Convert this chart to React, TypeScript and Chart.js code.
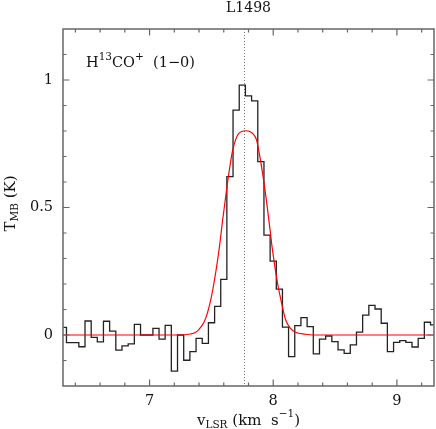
import React, { useEffect, useRef } from 'react';
import { Chart, registerables } from 'chart.js';
Chart.register(...registerables);

// Spectrum channels (km/s) and main-beam temperature (K)
const channelVelocity = [
  6.303, 6.353, 6.403, 6.453, 6.503, 6.553, 6.602, 6.652, 6.702, 6.752,
  6.802, 6.852, 6.902, 6.952, 7.002, 7.052, 7.101, 7.151, 7.201, 7.251,
  7.301, 7.351, 7.401, 7.451, 7.501, 7.551, 7.600, 7.650, 7.700, 7.750,
  7.800, 7.850, 7.900, 7.950, 8.000, 8.050, 8.099, 8.149, 8.199, 8.249,
  8.299, 8.349, 8.399, 8.449, 8.499, 8.549, 8.598, 8.648, 8.698, 8.748,
  8.798, 8.848, 8.898, 8.948, 8.998, 9.048, 9.097, 9.147, 9.197, 9.247,
  9.297,
];
const channelTmb = [
  0.030, -0.030, -0.030, -0.046, 0.055, -0.009, -0.027, 0.054, 0.015, -0.059,
  -0.043, -0.035, 0.042, 0.000, 0.000, 0.026, -0.016, 0.038, -0.142, 0.000,
  -0.099, -0.065, -0.013, -0.033, 0.048, 0.112, 0.218, 0.621, 0.882, 0.980,
  0.938, 0.918, 0.680, 0.392, 0.290, 0.180, 0.031, -0.085, 0.037, 0.068,
  0.033, -0.074, -0.016, -0.004, -0.026, -0.058, -0.072, -0.039, 0.011, 0.078,
  0.116, 0.102, 0.046, -0.065, -0.029, -0.022, -0.029, -0.047, -0.013, 0.050,
  0.040,
];

// Fitted profile (red)
const fitVelocity = [
  6.30, 7.25, 7.33, 7.37, 7.40, 7.44, 7.47, 7.50, 7.538, 7.565,
  7.591, 7.619, 7.645, 7.672, 7.699, 7.72, 7.75, 7.78, 7.81, 7.84,
  7.865, 7.887, 7.914, 7.941, 7.968, 7.994, 8.035, 8.07, 8.10, 8.14,
  8.18, 8.26, 8.32, 9.30,
];
const fitTmb = [
  0, 0, 0.004, 0.010, 0.022, 0.050, 0.090, 0.150, 0.255, 0.346,
  0.451, 0.556, 0.647, 0.725, 0.770, 0.790, 0.799, 0.801, 0.798, 0.787,
  0.765, 0.713, 0.634, 0.542, 0.438, 0.333, 0.203, 0.120, 0.060, 0.026,
  0.011, 0.003, 0, 0,
];

const lineCenterVelocity = 7.76;
const xMin = 6.3;
const xMax = 9.3;
const yMin = -0.2;
const yMax = 1.2;
const xMajorTicks = [7, 8, 9];
const xMinorTicks = [6.4, 6.6, 6.8, 7.2, 7.4, 7.6, 7.8, 8.2, 8.4, 8.6, 8.8, 9.2];
const yMajorTicks = [0, 0.5, 1];
const yMinorTicks = [-0.1, 0.1, 0.2, 0.3, 0.4, 0.6, 0.7, 0.8, 0.9, 1.1];
const titleText = 'L1498';

const FONT = '"DejaVu Serif", serif';
const TEXT = '#111';

type Seg = { t: string; size: number; dy: number };

function drawSegs(ctx: CanvasRenderingContext2D, segs: Seg[], x: number, y: number, align: 'left' | 'center') {
  let total = 0;
  for (const s of segs) {
    ctx.font = `${s.size}px ${FONT}`;
    total += ctx.measureText(s.t).width;
  }
  let cx = align === 'center' ? x - total / 2 : x;
  ctx.textAlign = 'left';
  ctx.textBaseline = 'alphabetic';
  for (const s of segs) {
    ctx.font = `${s.size}px ${FONT}`;
    ctx.fillText(s.t, cx, y + s.dy);
    cx += ctx.measureText(s.t).width;
  }
}

const decorPlugin = {
  id: 'decor',
  beforeDatasetsDraw(chart: any) {
    const { ctx, chartArea, scales } = chart;
    const x = scales.x.getPixelForValue(lineCenterVelocity);
    ctx.save();
    ctx.strokeStyle = '#777';
    ctx.lineWidth = 1;
    ctx.setLineDash([1, 2]);
    ctx.beginPath();
    ctx.moveTo(Math.round(x) + 0.5, chartArea.top);
    ctx.lineTo(Math.round(x) + 0.5, chartArea.bottom);
    ctx.stroke();
    ctx.restore();
  },
  afterDraw(chart: any) {
    const { ctx, chartArea, scales } = chart;
    const { left, right, top, bottom } = chartArea;
    ctx.save();
    ctx.strokeStyle = '#666';
    ctx.lineWidth = 1.5;
    ctx.strokeRect(left, top, right - left, bottom - top);
    ctx.lineWidth = 1.2;
    ctx.beginPath();
    const xt = (v: number, len: number) => {
      const p = scales.x.getPixelForValue(v);
      ctx.moveTo(p, bottom); ctx.lineTo(p, bottom - len);
      ctx.moveTo(p, top); ctx.lineTo(p, top + len);
    };
    const yt = (v: number, len: number) => {
      const p = scales.y.getPixelForValue(v);
      ctx.moveTo(left, p); ctx.lineTo(left + len, p);
      ctx.moveTo(right, p); ctx.lineTo(right - len, p);
    };
    xMajorTicks.forEach((v) => xt(v, 6.5));
    xMinorTicks.forEach((v) => xt(v, 3.5));
    yMajorTicks.forEach((v) => yt(v, 6.5));
    yMinorTicks.forEach((v) => yt(v, 3.5));
    ctx.stroke();

    ctx.fillStyle = TEXT;
    // title
    ctx.font = `14px ${FONT}`;
    ctx.textAlign = 'center';
    ctx.textBaseline = 'alphabetic';
    ctx.fillText(titleText, (left + right) / 2, 11.5);

    // line label
    drawSegs(ctx, [
      { t: 'H', size: 14.5, dy: 0 },
      { t: '13', size: 10.5, dy: -7 },
      { t: 'CO', size: 14.5, dy: 0 },
      { t: '+', size: 10.5, dy: -7 },
      { t: '  (1\u22120)', size: 14.5, dy: 0 },
    ], 86, 66.5, 'left');

    // x axis title
    drawSegs(ctx, [
      { t: 'v', size: 15, dy: 0 },
      { t: 'LSR', size: 10.5, dy: 3 },
      { t: ' (km  s', size: 15, dy: 0 },
      { t: '\u22121', size: 10.5, dy: -8 },
      { t: ')', size: 15, dy: 0 },
    ], (left + right) / 2, 425, 'center');

    // y axis title
    ctx.save();
    ctx.translate(15, (top + bottom) / 2 - 4);
    ctx.rotate(-Math.PI / 2);
    drawSegs(ctx, [
      { t: 'T', size: 15, dy: 0 },
      { t: 'MB', size: 10.5, dy: 3 },
      { t: ' (K)', size: 15, dy: 0 },
    ], 0, 0, 'center');
    ctx.restore();
    ctx.restore();
  },
};

export default function App() {
  const ref = useRef<HTMLCanvasElement | null>(null);
  useEffect(() => {
    if (!ref.current) return;
    const chart = new Chart(ref.current, {
      type: 'line',
      data: {
        datasets: [
          {
            label: 'fit',
            data: fitVelocity.map((v, i) => ({ x: v, y: fitTmb[i] })),
            borderColor: '#ff0000',
            borderWidth: 1.2,
            pointRadius: 0,
            fill: false,
            cubicInterpolationMode: 'monotone',
          },
          {
            label: 'spectrum',
            data: channelVelocity.map((v, i) => ({ x: v, y: channelTmb[i] })),
            borderColor: '#222',
            borderWidth: 1.3,
            pointRadius: 0,
            fill: false,
            stepped: 'middle',
          },
        ],
      },
      options: {
        animation: false,
        responsive: false,
        maintainAspectRatio: false,
        events: [],
        layout: { padding: { top: 29, right: 2, left: 0, bottom: 0 } },
        plugins: {
          legend: { display: false },
          tooltip: { enabled: false },
          title: { display: false },
        },
        scales: {
          x: {
            type: 'linear',
            min: xMin,
            max: xMax,
            border: { display: false },
            grid: { display: false, drawTicks: false },
            ticks: {
              font: { family: FONT, size: 14.5 },
              color: TEXT,
              padding: 7,
              maxRotation: 0,
              autoSkip: false,
              callback: (v: any) => String(v),
            },
            afterBuildTicks: (s: any) => {
              s.ticks = xMajorTicks.map((v) => ({ value: v }));
            },
            afterFit: (s: any) => {
              s.height = 43;
            },
          },
          y: {
            type: 'linear',
            min: yMin,
            max: yMax,
            border: { display: false },
            grid: { display: false, drawTicks: false },
            ticks: {
              font: { family: FONT, size: 14.5 },
              color: TEXT,
              padding: 10,
              autoSkip: false,
              callback: (v: any) => String(v),
            },
            afterBuildTicks: (s: any) => {
              s.ticks = yMajorTicks.map((v) => ({ value: v }));
            },
            afterFit: (s: any) => {
              s.width = 63;
            },
          },
        },
      } as any,
      plugins: [decorPlugin],
    });
    return () => chart.destroy();
  }, []);
  return (
    <div style={{ position: 'fixed', left: 0, top: 0, width: 436, height: 429, background: '#fff' }}>
      <canvas ref={ref} width={436} height={429} style={{ display: 'block', width: 436, height: 429 }} />
    </div>
  );
}
